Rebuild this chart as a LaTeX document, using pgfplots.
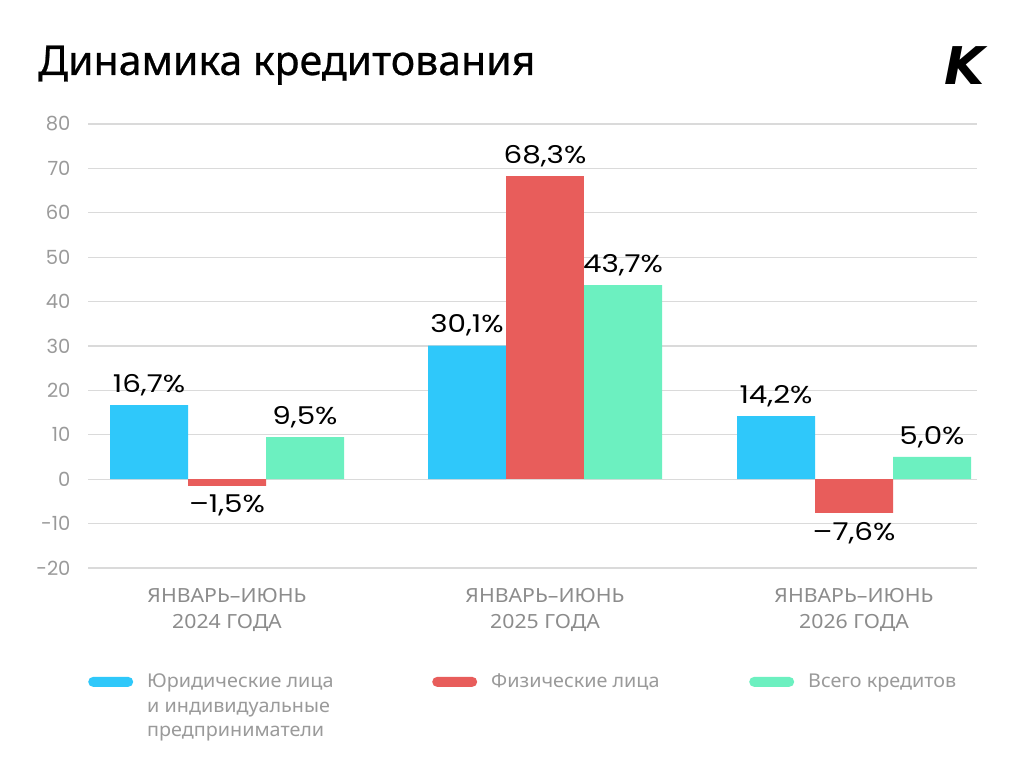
\documentclass[border=0pt]{standalone}
\usepackage{fontspec}
\usepackage{pgfplots}
\pgfplotsset{compat=1.18}
\setmainfont{Noto Sans}
\newfontfamily\numfont{Poppins}
\newfontfamily\lblfont{Poppins}[FakeStretch=1.2]
\newfontfamily\catfont{Noto Sans}[FakeStretch=1.09]
\newfontfamily\legfont{Noto Sans}[FakeStretch=1.04]
\newfontfamily\titlefont{Noto Sans}[FakeBold=0.6]
\newfontfamily\logofont{DejaVu Sans}
\definecolor{cblue}{HTML}{2FC8FA}
\definecolor{cred}{HTML}{E85D5B}
\definecolor{cgreen}{HTML}{6CF0C0}
\definecolor{ctick}{HTML}{9A9A9A}
\definecolor{ccat}{HTML}{8C8C8C}
\definecolor{cleg}{HTML}{9A9A9A}
\definecolor{cgrid}{HTML}{DADADA}
\begin{document}
\begin{tikzpicture}
\useasboundingbox[fill=white] (0pt,0pt) rectangle (1024pt,771pt);
\node[anchor=base west, inner sep=0, font=\titlefont\fontsize{41}{44}\selectfont] at (38pt,696pt) {Динамика кредитования};
\node[anchor=base west, inner sep=0, font=\logofont\bfseries\itshape\fontsize{52}{52}\selectfont] at (944pt,686pt) {K};
\begin{axis}[
  at={(88pt,203pt)}, anchor=south west,
  scale only axis, width=889pt, height=444pt,
  xmin=88, xmax=977, ymin=-20, ymax=80,
  ybar=0pt, bar width=78,
  axis line style={draw=none}, major tick length=0pt,
  ytick={-20,-10,...,80},
  ymajorgrids, grid style={cgrid, line width=1.2pt},
  xtick={227,545,854},
  xticklabels={{ЯНВАРЬ–ИЮНЬ\\2024 ГОДА},{ЯНВАРЬ–ИЮНЬ\\2025 ГОДА},{ЯНВАРЬ–ИЮНЬ\\2026 ГОДА}},
  xticklabel style={align=center, font=\catfont\fontsize{19.5}{26}\selectfont, text=ccat, yshift=-17pt},
  yticklabel style={font=\numfont\fontsize{19.5}{22}\selectfont, text=ctick, xshift=-14pt},
  /pgf/number format/assume math mode=true,
  nodes near coords, point meta=explicit symbolic,
  every node near coord/.append style={font=\lblfont\fontsize{24.5}{28}\selectfont, text=black, inner sep=9pt},
  legend columns=3,
  legend cell align=left,
  legend style={at={(0,-0.234)}, anchor=north west, draw=none, fill=none, inner sep=0pt,
    font=\legfont\fontsize{19}{24.5}\selectfont, text=cleg,
    cells={anchor=base west, inner sep=0pt},
    /tikz/every odd column/.append style={column sep=12pt},
    /tikz/every even column/.append style={column sep=0pt}},
  legend image code/.code={\fill[rounded corners=5pt] (0pt,1pt) rectangle (45pt,11pt);},
]
\addplot[fill=cblue, draw=none, bar shift=-78] coordinates {(227,16.7) [16,7\%] (545,30.1) [30,1\%] (854,14.2) [14,2\%]};
\addlegendentry{\parbox[t]{283pt}{Юридические лица\\и индивидуальные\\предприниматели}}
\addplot[fill=cred, draw=none, bar shift=0] coordinates {(545,68.3) [68,3\%]};
\addlegendentry{\parbox[t]{256pt}{Физические лица}}
\addplot[fill=cgreen, draw=none, bar shift=78] coordinates {(227,9.5) [9,5\%] (545,43.7) [43,7\%] (854,5.0) [5,0\%]};
\addlegendentry{Всего кредитов}
\addplot[fill=cred, draw=none, bar shift=0, forget plot, every node near coord/.append style={anchor=north}] coordinates {(227,-1.5) [–1,5\%] (854,-7.6) [–7,6\%]};
\end{axis}
\end{tikzpicture}
\end{document}
